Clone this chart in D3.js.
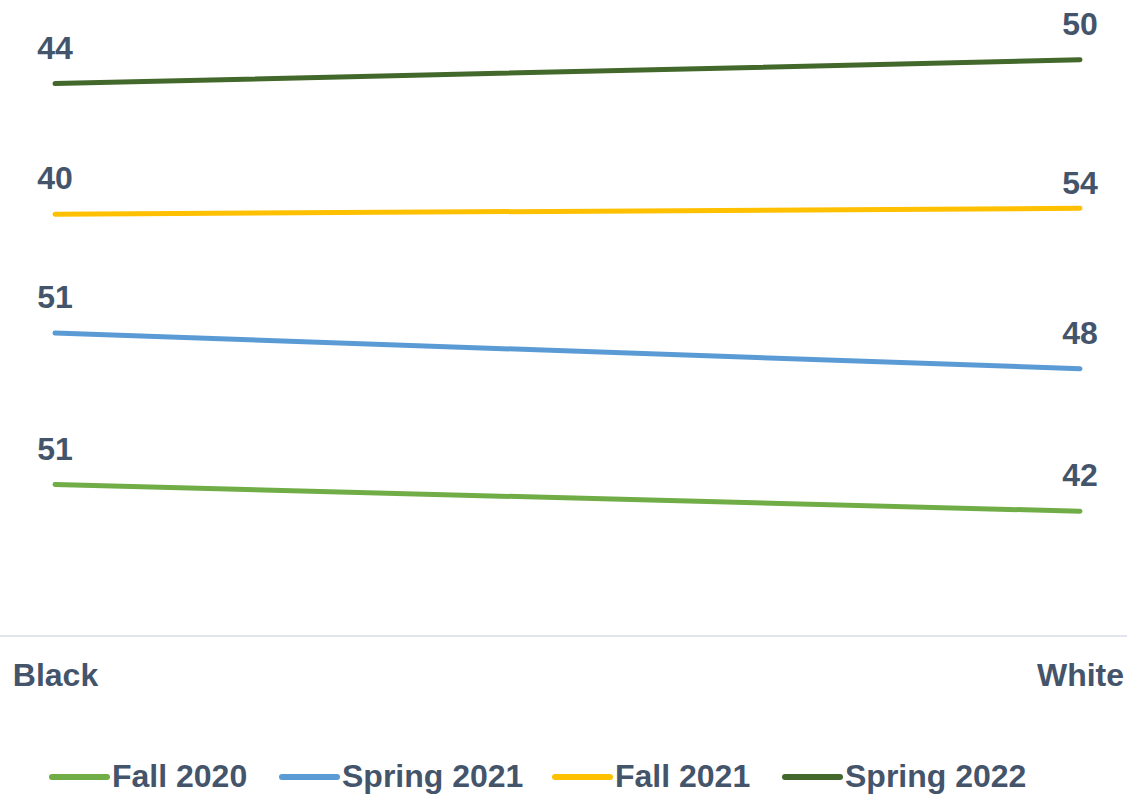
<!DOCTYPE html>
<html>
<head>
<meta charset="utf-8">
<script src="https://cdn.jsdelivr.net/npm/d3@7"></script>
<style>
body { margin: 0; background: #fff; }
text { font-family: "Liberation Sans", Arial, sans-serif; font-weight: bold; fill: #44546A; }
</style>
</head>
<body>
<script>
var categories = ["Black", "White"];
var seriesNames = ["Fall 2020", "Spring 2021", "Fall 2021", "Spring 2022"];
var fall2020   = [51, 42];
var spring2021 = [51, 48];
var fall2021   = [40, 54];
var spring2022 = [44, 50];
var colors = ["#70AD47", "#5B9BD5", "#FFC000", "#43682B"];

var width = 1127, height = 796;

var rows = categories.map(function(c, i) {
  return { cat: c, "Fall 2020": fall2020[i], "Spring 2021": spring2021[i], "Fall 2021": fall2021[i], "Spring 2022": spring2022[i] };
});
var stacked = d3.stack().keys(seriesNames)(rows);

var xScale = d3.scalePoint().domain(categories).range([55, 1080]);
var yScale = d3.scaleLinear().domain([0, 200]).range([636, 42]);

var svg = d3.select("body").append("svg")
.attr("width", width)
.attr("height", height);

// baseline
svg.append("line")
.attr("x1", 0).attr("x2", width)
.attr("y1", yScale(0)).attr("y2", yScale(0))
.attr("stroke", "#D9DEE6")
.attr("stroke-width", 1.5);

var xAxis = d3.axisBottom(xScale).tickSize(0).tickPadding(0);
var xAxisGroup = svg.append("g")
.attr("transform", "translate(0," + yScale(0) + ")")
.call(xAxis);
xAxisGroup.select(".domain").remove();
xAxisGroup.selectAll("text")
.attr("dy", null)
.attr("y", 50)
.style("font-size", "32px")
.style("font-family", "'Liberation Sans', Arial, sans-serif")
.attr("fill", "#44546A");

var linePath = d3.line()
.x(function(d) { return xScale(d.data.cat); })
.y(function(d) { return yScale(d[1]); });

stacked.forEach(function(s, k) {
  svg.append("path")
  .attr("d", linePath(s))
  .attr("fill", "none")
  .attr("stroke", colors[k])
  .attr("stroke-width", 5)
  .attr("stroke-linecap", "round");

  svg.selectAll(".lbl" + k)
  .data(s)
  .enter().append("text")
  .attr("x", function(d) { return xScale(d.data.cat); })
  .attr("y", function(d) {
    // the Fall 2021 / White label sits a bit closer to its line
    var off = (k == 2 && d.data.cat == "White") ? 14 : 25;
    return yScale(d[1]) - off;
  })
  .attr("text-anchor", "middle")
  .style("font-size", "32px")
  .text(function(d) { return d[1] - d[0]; });
});

// legend
var legendX = [52, 282, 555, 785];
var legend = svg.selectAll(".legend")
.data(seriesNames)
.enter().append("g")
.attr("transform", function(d, i) { return "translate(" + legendX[i] + ",777)"; });

legend.append("line")
.attr("x1", 0).attr("x2", 55)
.attr("y1", 0).attr("y2", 0)
.attr("stroke", function(d, i) { return colors[i]; })
.attr("stroke-width", 6)
.attr("stroke-linecap", "round");

legend.append("text")
.attr("x", 60)
.attr("y", 10)
.style("font-size", "32px")
.text(function(d) { return d; });
</script>
</body>
</html>
